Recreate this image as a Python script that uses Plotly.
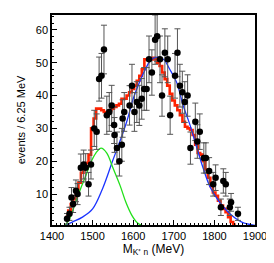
import plotly.graph_objects as go

# data points (mass in MeV, events, error)
mass = [1437, 1443, 1448, 1452, 1459, 1463, 1471, 1478, 1483, 1490, 1496, 1504, 1510,
        1516, 1522, 1528, 1535, 1541, 1547, 1553, 1554, 1560, 1566, 1572, 1574, 1578,
        1591, 1597, 1603, 1609, 1615, 1621, 1627, 1633, 1639, 1646, 1654, 1659, 1666,
        1671, 1678, 1685, 1691, 1703, 1709, 1715, 1721, 1727, 1734, 1741, 1753, 1758,
        1764, 1774, 1779, 1787, 1797, 1803, 1816, 1822, 1828, 1838, 1841, 1858]
events = [2.5, 4, 9, 7, 11, 10, 18, 19, 18, 13, 19, 30, 29,
          45, 46, 54, 34, 35, 37, 31, 28, 24, 20, 25, 33, 35,
          37, 43, 35, 38, 37, 39, 42, 42, 51, 47, 57, 58, 51,
          40, 53, 51, 34, 46, 53, 43, 41, 38, 40, 24, 32, 26,
          29, 21, 21, 17, 13, 15, 6, 14, 13, 6, 7.5, 4]
errors = [1.6, 2, 3, 2.6, 3.3, 3.2, 4.2, 4.4, 4.3, 3.6, 4.4, 5.5, 5.4,
          6.7, 6.8, 7.4, 5.8, 5.9, 6.1, 5.6, 5.3, 4.9, 4.5, 5, 5.7, 5.9,
          6, 6.5, 5.9, 6.2, 6.1, 6.2, 6.5, 6.5, 7.1, 6.9, 7.5, 7.6, 7.1,
          6.3, 7.3, 7.1, 5.8, 6.8, 7.3, 6.5, 6.4, 6.2, 6.3, 4.9, 5.7, 5.1,
          5.4, 4.6, 4.6, 4.1, 3.6, 3.9, 2.5, 3.7, 3.6, 2.5, 2.7, 2]

# total fit histogram (6.25 MeV bins)
fit_edges_start = 1433.75
fit_bin_width = 6.25
fit_total = [3.2, 5, 7, 8.5, 10.5, 13.5, 16.5, 18, 19.5, 22, 30, 33,
             36, 36, 35.5, 35, 35, 35.5, 36, 36.5, 37, 37.5, 39, 39,
             40, 41, 42, 43, 44.5, 46, 48, 51, 51, 51, 51.5, 51, 50,
             49, 47, 45, 43, 40.5, 38.5, 37, 35.5, 34, 32, 30.5, 30, 29.5,
             28, 25, 22.5, 22, 20, 17.5, 15, 12.5, 10.5, 9.5, 8, 6.5, 5.5,
             4.5, 3, 1.5, 0.7]

# background curve samples (blue)
bg_mass = [1433, 1450, 1475, 1500, 1524, 1549, 1570, 1584, 1600, 1612, 1630, 1645,
           1662, 1675, 1690, 1707, 1723, 1740, 1757, 1772, 1790, 1810, 1830, 1850,
           1870, 1900]
bg_val = [0.5, 1.5, 3, 5.5, 11.5, 20, 27, 32, 39, 43, 48, 51,
          51.7, 51, 48, 44, 37, 31, 24, 18, 12, 8, 5, 2.8,
          1.3, 0.5]

# resonance curve samples (green)
sig_mass = [1433, 1445, 1458, 1470, 1483, 1495, 1508, 1521, 1535, 1550, 1568, 1582,
            1596, 1610, 1625, 1640]
sig_val = [0.5, 3, 7.5, 11.5, 15.5, 19.5, 22.5, 24, 22.5, 18, 12.5, 7.5,
           3.7, 1.3, 0.3, 0.0]

# build step outline
step_x, step_y = [], []
for i, v in enumerate(fit_total):
    lo = fit_edges_start + i * fit_bin_width
    step_x += [lo, lo + fit_bin_width]
    step_y += [v, v]

fig = go.Figure()
fig.add_trace(go.Scatter(x=step_x, y=step_y, mode="lines",
                         line=dict(color="#ff2200", width=2.6), hoverinfo="skip"))
fig.add_trace(go.Scatter(x=bg_mass, y=bg_val, mode="lines", line_shape="spline",
                         line=dict(color="#1a33ff", width=1.3)))
fig.add_trace(go.Scatter(x=sig_mass, y=sig_val, mode="lines", line_shape="spline",
                         line=dict(color="#22e01a", width=1.3)))
fig.add_trace(go.Scatter(x=mass, y=events, mode="markers",
                         marker=dict(color="black", size=6.5),
                         error_y=dict(type="data", array=errors, color="#555555",
                                      thickness=1, width=3)))

font = "Liberation Sans, Arial, sans-serif"
fig.update_layout(
    width=274, height=263,
    margin=dict(l=44, r=27, t=5, b=46),
    paper_bgcolor="white", plot_bgcolor="white",
    showlegend=False,
    font=dict(family=font, size=11, color="black"),
)
fig.update_xaxes(range=[1400, 1900], tickvals=[1400, 1500, 1600, 1700, 1800, 1900],
                 ticks="inside", ticklen=5, tickwidth=1, tickcolor="black",
                 minor=dict(dtick=10, ticks="inside", ticklen=2.5, tickcolor="black"),
                 showline=True, linecolor="black", linewidth=1.5, mirror=True,
                 showgrid=False, zeroline=False,
                 title=dict(text="M<sub>K⁺ n</sub> (MeV)", font=dict(size=12),
                            standoff=2),
                 tickfont=dict(size=11))
fig.update_yaxes(range=[0.6, 64.5], tickvals=[10, 20, 30, 40, 50, 60],
                 ticks="inside", ticklen=5, tickwidth=1, tickcolor="black",
                 minor=dict(dtick=2, ticks="inside", ticklen=2.5, tickcolor="black"),
                 showline=True, linecolor="black", linewidth=1.5, mirror=True,
                 showgrid=False, zeroline=False,
                 title=dict(text="events / 6.25 MeV", font=dict(size=11), standoff=8),
                 tickfont=dict(size=11))

fig.write_html("out.html")
